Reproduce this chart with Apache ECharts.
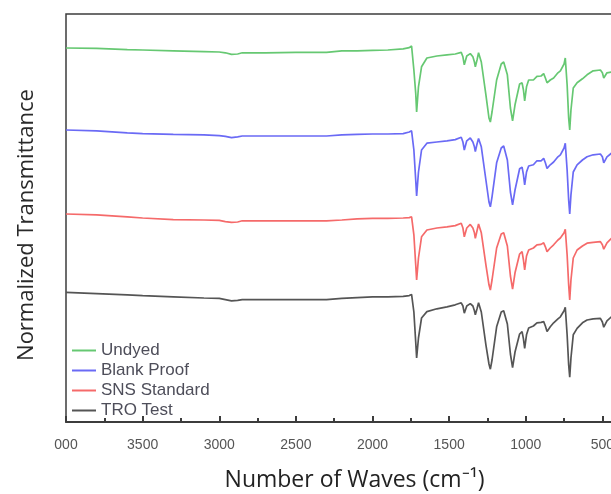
<!DOCTYPE html>
<html>
<head>
<meta charset="utf-8">
<script src="https://cdn.jsdelivr.net/npm/echarts@6/dist/echarts.min.js"></script>
<style>html,body{margin:0;padding:0;background:#fff}#c{width:611px;height:494px}</style>
</head>
<body>
<div id="c"></div>
<script>
// Wavenumbers (cm-1), shared by all spectra
const waveNumbers = [4000,3800,3600,3500,3300,3100,3000,2960,2920,2880,
  2850,2700,2500,2300,2200,2100,2000,1900,1800,1760,
  1745,1730,1718,1712,1700,1680,1645,1580,1514,1460,
  1421,1410,1401,1385,1362,1345,1335,1329,1318,1308,
  1290,1260,1240,1231,1220,1190,1160,1144,1120,1100,
  1086,1070,1040,1024,1015,1007,995,981,950,927,
  900,883,872,861,840,818,790,774,750,742,
  730,720,713,705,690,665,630,600,560,513,
  500,491,470,441,400];

// Offset normalized transmittance (arbitrary units)
const undyed = [93.5,93.4,93.1,93.0,92.8,92.6,92.5,92.3,91.9,92.0,
  92.3,92.3,92.4,92.4,92.8,92.8,92.9,93.0,93.3,93.6,
  94.0,88.0,82.2,77.5,83.8,88.8,91.0,91.5,91.8,92.0,
  92.4,91.3,89.3,91.5,92.1,91.3,90.0,88.8,90.5,92.3,
  90.0,81.8,76.0,75.0,77.5,85.5,89.5,90.0,86.8,78.5,
  75.3,79.3,84.5,84.8,83.0,80.3,83.8,85.5,85.5,86.4,
  86.5,87.1,86.0,84.8,85.5,86.0,87.3,87.8,89.5,91.0,
  84.3,76.0,73.0,78.0,83.5,84.8,85.8,86.8,87.8,88.0,
  87.3,86.0,87.3,87.5,87.5];

const blankProof = [73.0,72.8,72.3,72.1,71.9,71.8,71.6,71.4,71.1,71.3,
  71.5,71.5,71.5,71.5,71.8,71.9,72.0,72.0,72.1,72.5,
  72.8,68.0,60.5,56.5,62.5,68.0,69.7,70.0,70.3,70.6,
  71.2,70.0,68.0,70.3,71.0,70.0,68.8,67.6,69.5,70.9,
  68.8,60.5,55.0,53.8,56.3,64.8,68.5,69.0,65.5,57.5,
  54.3,58.0,63.3,63.7,61.8,59.3,62.5,64.0,64.3,65.3,
  65.3,65.9,64.8,63.4,64.3,65.0,66.3,66.8,68.5,69.7,
  63.0,55.5,52.0,56.8,62.5,64.3,65.5,66.3,66.8,67.0,
  66.3,64.8,66.3,67.2,67.3];

const snsStandard = [52.0,51.8,51.3,51.0,50.6,50.5,50.4,50.1,49.9,50.0,
  50.3,50.3,50.3,50.3,50.5,50.8,50.9,50.9,51.0,51.1,
  51.3,46.8,39.3,35.5,41.0,46.3,48.0,48.5,48.8,49.1,
  49.7,48.5,46.3,48.5,49.4,48.5,47.3,45.9,47.8,49.5,
  47.3,39.3,34.3,33.0,35.5,43.5,47.0,47.3,44.0,36.5,
  33.2,37.3,42.0,42.6,40.5,38.0,41.5,43.0,43.5,44.3,
  44.4,44.8,43.8,42.6,43.5,44.3,45.5,46.0,47.3,48.2,
  41.8,34.3,30.5,35.5,41.0,43.0,44.0,44.7,44.9,45.1,
  44.3,43.2,44.8,45.9,46.0];

const troTest = [32.4,32.1,31.8,31.6,31.3,31.0,30.9,30.6,30.3,30.4,
  30.6,30.6,30.6,30.6,30.9,31.1,31.3,31.3,31.4,31.6,
  31.9,27.5,20.0,16.0,21.0,26.0,27.6,28.3,28.8,29.3,
  29.8,29.0,27.2,29.0,29.6,29.0,27.8,26.8,28.3,29.8,
  27.5,19.3,14.5,13.2,15.5,23.8,27.5,27.8,24.5,17.0,
  13.6,17.5,22.0,22.6,20.8,18.4,21.8,23.5,24.0,24.8,
  24.9,25.1,24.0,22.6,23.8,24.8,25.8,26.3,27.8,28.7,
  21.8,14.3,11.2,16.0,21.8,23.4,24.8,25.5,25.8,25.9,
  25.0,23.7,25.3,26.3,26.4];

const seriesNames = ['Undyed','Blank Proof','SNS Standard','TRO Test'];
const seriesColors = ['#66c872','#6a6af5','#f56a6a','#555555'];
const seriesValues = [undyed, blankProof, snsStandard, troTest];

const chart = echarts.init(document.getElementById('c'), null, {renderer:'canvas'});
chart.setOption({
  animation: false,
  backgroundColor: '#fff',
  grid: {left: 66, top: 14, bottom: 72, right: -68, outerBoundsMode: 'none', containLabel: false,
    show: true, borderColor: '#3c3c3c', borderWidth: 1.5},
  legend: {
    orient: 'vertical', left: 72, top: 342, padding: 0, itemGap: 3,
    itemWidth: 24, itemHeight: 2, icon: 'rect',
    textStyle: {fontFamily: 'Liberation Sans', fontSize: 17, color: '#4e4e5a'},
    data: seriesNames
  },
  xAxis: {
    type: 'value', inverse: true, min: 0, max: 4000, interval: 500,
    name: 'Number of Waves (cm\u207B\u00B9)', nameLocation: 'middle', nameGap: 47,
    nameTextStyle: {fontFamily: 'Open Sans', fontSize: 23, color: '#222', padding: [0, 36, 0, 0]},
    axisLine: {lineStyle: {color: '#3c3c3c', width: 2}},
    axisTick: {inside: true, length: 6, lineStyle: {color: '#3c3c3c', width: 2}},
    minorTick: {show: true, splitNumber: 2, length: 4, lineStyle: {color: '#3c3c3c', width: 2}},
    axisLabel: {fontFamily: 'Liberation Sans', fontSize: 14, color: '#555', margin: 16,
      formatter: v => v === 4000 ? '000' : String(v)},
    splitLine: {show: false}
  },
  yAxis: {
    type: 'value', min: 0, max: 102,
    name: 'Normalized Transmittance', nameLocation: 'middle', nameGap: 28,
    nameTextStyle: {fontFamily: 'Open Sans', fontSize: 22, color: '#2a2a2a', padding: [0, 14, 0, 0]},
    axisLine: {show: true, lineStyle: {color: '#3c3c3c', width: 2}},
    axisTick: {show: false}, axisLabel: {show: false}, splitLine: {show: false}
  },
  series: seriesNames.map((n, i) => ({
    name: n, type: 'line', showSymbol: false, symbol: 'none',
    color: seriesColors[i],
    lineStyle: {width: 1.7, color: seriesColors[i]},
    data: waveNumbers.map((w, k) => [w, seriesValues[i][k]])
  }))
});
</script>
</body>
</html>
